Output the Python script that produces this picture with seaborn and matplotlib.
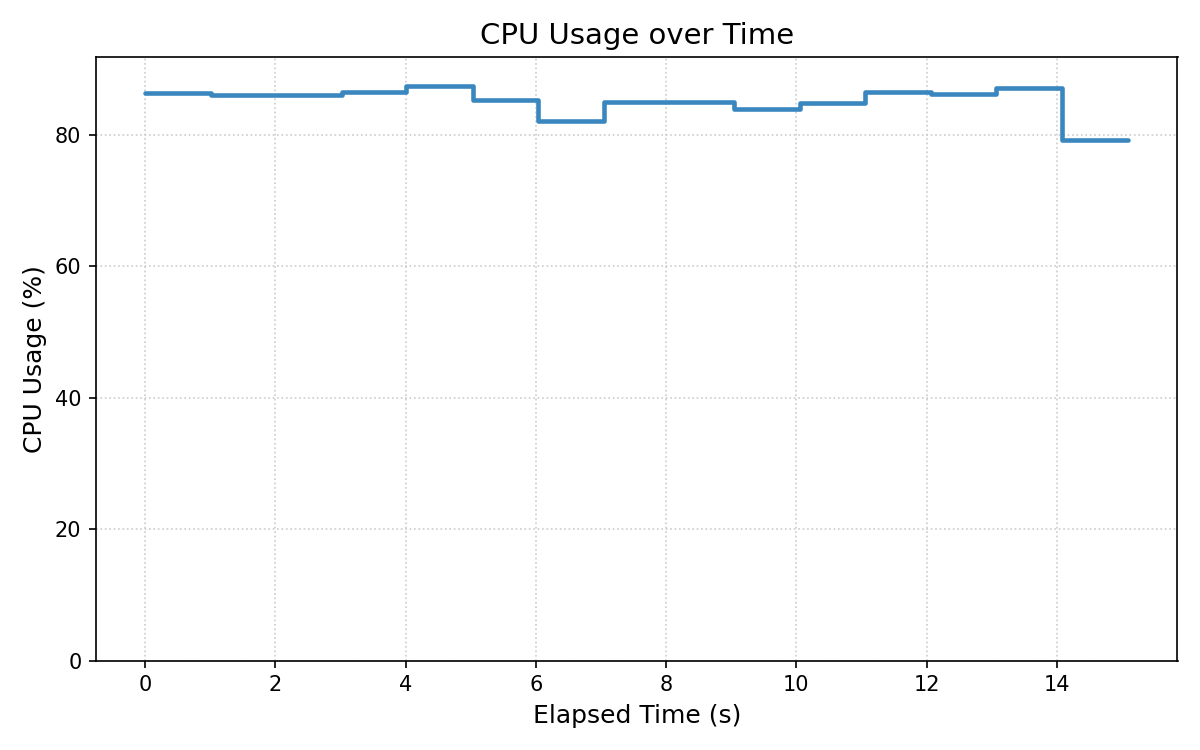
import matplotlib
matplotlib.use("Agg")
import matplotlib.pyplot as plt
import seaborn as sns
import pandas as pd

elapsed_s = [0.0, 1.01, 2.01, 3.02, 4.00, 5.03, 6.03, 7.04, 8.05, 9.05,
             10.05, 11.05, 12.07, 13.07, 14.08, 15.10]
cpu_pct = [86.4, 86.1, 86.1, 86.6, 87.5, 85.3, 82.2, 85.1, 85.1, 83.9,
           84.9, 86.6, 86.2, 87.1, 79.2, 79.2]

df = pd.DataFrame({"Elapsed Time (s)": elapsed_s, "CPU Usage (%)": cpu_pct})

sns.set_style("ticks", {"axes.edgecolor": "black", "text.color": "black",
                        "axes.labelcolor": "black", "xtick.color": "black",
                        "ytick.color": "black"})
plt.rcParams["font.family"] = ["DejaVu Sans"]

fig, ax = plt.subplots(figsize=(8, 5), dpi=150)
sns.lineplot(data=df, x="Elapsed Time (s)", y="CPU Usage (%)", ax=ax,
             drawstyle="steps-post", color="#3a87bf", linewidth=2.2)
ax.set_ylim(0, max(cpu_pct) * 1.05)
ax.grid(True, linestyle=":", color="#cccccc", linewidth=0.8)
ax.set_title("CPU Usage over Time", fontsize=14)
ax.set_xlabel("Elapsed Time (s)", fontsize=12)
ax.set_ylabel("CPU Usage (%)", fontsize=12)
ax.tick_params(labelsize=10)
fig.tight_layout()
fig.savefig("out.png", dpi=150)
